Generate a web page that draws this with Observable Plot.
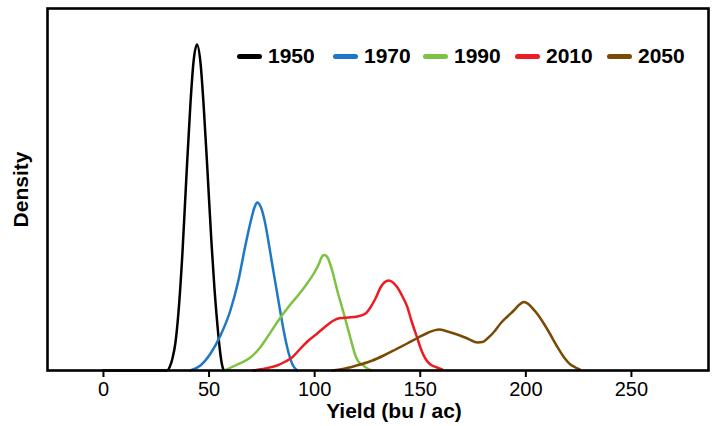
<!DOCTYPE html>
<html>
<head>
<meta charset="utf-8">
<script src="https://cdn.jsdelivr.net/npm/d3@7"></script>
<script src="https://cdn.jsdelivr.net/npm/@observablehq/plot@0.6"></script>
<style>
  body { margin: 0; background: #fff; font-family: "Liberation Sans", Arial, Helvetica, sans-serif; }
  #wrap { position: relative; width: 714px; height: 426px; color: #000; }
  .item { position: absolute; top: 44px; height: 24px; display: flex; align-items: center; }
  .sw { width: 25px; height: 5px; border-radius: 3px; }
  .lab { margin-left: 6px; font-size: 21px; font-weight: bold; line-height: 24px; }
</style>
</head>
<body>
<div id="wrap"></div>
<script>
const years = ["1950", "1970", "1990", "2010", "2050"];
const colors = ["#000000", "#1f78c4", "#7dc242", "#ed1c24", "#7a4a05"];
const xTicks = [0, 50, 100, 150, 200, 250];

const yield1950 = [0, 30.07, 31.25, 32.67, 34.09, 35.51, 37.41, 39.30, 41.19, 42.61, 44.27, 45.93, 47.35, 49.24, 51.14, 52.56, 53.98, 55.16, 56.11, 56.82];
const dens1950  = [0, 0, 0.00075, 0.003, 0.007, 0.0145, 0.0295, 0.04875, 0.06675, 0.077, 0.0815, 0.077, 0.067, 0.05, 0.032, 0.0205, 0.01125, 0.005, 0.0015, 0.000125];

const yield1970 = [41.2, 45.9, 50.7, 55.4, 60.1, 63.9, 67.2, 69.6, 71.5, 72.8, 74.4, 76.3, 78.2, 80.0, 82.2, 83.8, 85.7, 87.6, 89.5, 91.7];
const dens1970  = [0, 0.00125, 0.00425, 0.00875, 0.015, 0.0225, 0.03125, 0.037, 0.04075, 0.042, 0.041, 0.0375, 0.032, 0.02625, 0.0195, 0.0145, 0.009, 0.0045, 0.0015, 0];

const yield1990 = [57.3, 63.4, 69.6, 73.4, 77.5, 83.8, 88.5, 92.5, 96.1, 99.6, 102.3, 103.2, 104.6, 106.1, 108.3, 110.7, 113.8, 117.0, 119.3, 120.7, 123.1, 125.0, 127.2];
const dens1990  = [0, 0.0015, 0.00325, 0.00525, 0.00825, 0.01325, 0.0165, 0.019, 0.0215, 0.02425, 0.027, 0.02825, 0.0289, 0.02825, 0.025, 0.02, 0.01425, 0.008, 0.00375, 0.00225, 0.00125, 0.0005, 0];

const yield2010 = [71.0, 76.7, 82.2, 86.2, 89.3, 93.3, 97.1, 101.2, 105.1, 109.0, 112.2, 116.0, 120.1, 124.1, 126.4, 128.8, 131.2, 133.0, 135.2, 136.8, 139.2, 141.6, 143.8, 145.8, 148.5, 150.6, 152.7, 154.8, 157.2, 160.4];
const dens2010  = [0, 0.0005, 0.00125, 0.00225, 0.00325, 0.0055, 0.0075, 0.00925, 0.011, 0.0125, 0.0131, 0.01325, 0.0135, 0.01425, 0.01575, 0.018, 0.02075, 0.022, 0.0225, 0.0221, 0.02075, 0.0185, 0.016, 0.0125, 0.00825, 0.005, 0.00275, 0.0015, 0.0009, 0.00025];

const yield2050 = [108.3, 114.5, 121.6, 127.4, 132.7, 138.3, 143.8, 149.1, 153.9, 158.9, 162.9, 167.5, 172.3, 177.2, 179.5, 181.8, 185.1, 188.0, 191.3, 194.3, 197.0, 199.1, 201.2, 203.1, 206.0, 208.5, 211.6, 214.8, 217.8, 221.1, 223.5, 225.5];
const dens2050  = [0, 0.0005, 0.0015, 0.0025, 0.00375, 0.00525, 0.00675, 0.00825, 0.0095, 0.01025, 0.00975, 0.009, 0.008, 0.007, 0.0071, 0.008, 0.00975, 0.01175, 0.0135, 0.015, 0.0165, 0.0171, 0.0166, 0.0156, 0.01375, 0.01175, 0.009, 0.006, 0.0035, 0.0015, 0.00075, 0.00025];

const seriesX = [yield1950, yield1970, yield1990, yield2010, yield2050];
const seriesY = [dens1950, dens1970, dens1990, dens2010, dens2050];
const rows = [];
years.forEach((yr, i) => seriesX[i].forEach((x, j) => rows.push({year: yr, yield: x, density: seriesY[i][j]})));

const chart = Plot.plot({
  width: 714, height: 426,
  marginLeft: 47, marginRight: 6, marginTop: 8, marginBottom: 56,
  style: {fontFamily: "Liberation Sans, Arial, Helvetica, sans-serif", background: "transparent", color: "#000"},
  x: {domain: [-26.5, 286.5]},
  y: {domain: [0, 0.0905], axis: null},
  color: {domain: years, range: colors},
  marks: [
    Plot.axisX({ticks: xTicks, tickSize: 7, strokeWidth: 2, fontSize: 20, tickPadding: 4, label: null}),
    Plot.line(rows, {x: "yield", y: "density", z: "year", stroke: "year", strokeWidth: 2.5, curve: "monotone-x"}),
    Plot.frame({stroke: "#000", strokeWidth: 2.6}),
    Plot.text(["Yield (bu / ac)"], {frameAnchor: "bottom", dx: 16, dy: 47, fontSize: 21, fontWeight: "bold", fill: "#000"}),
    Plot.text(["Density"], {frameAnchor: "left", textAnchor: "middle", dx: -26, rotate: -90, fontSize: 21, fontWeight: "bold", fill: "#000"})
  ]
});
const wrap = document.getElementById("wrap");
wrap.appendChild(chart);

const legendLeft = [237, 333, 423, 515, 607];
years.forEach((yr, i) => {
  const it = document.createElement("div");
  it.className = "item";
  it.style.left = legendLeft[i] + "px";
  const sw = document.createElement("span");
  sw.className = "sw";
  sw.style.background = colors[i];
  const lab = document.createElement("span");
  lab.className = "lab";
  lab.textContent = yr;
  it.appendChild(sw);
  it.appendChild(lab);
  wrap.appendChild(it);
});
</script>
</body>
</html>
